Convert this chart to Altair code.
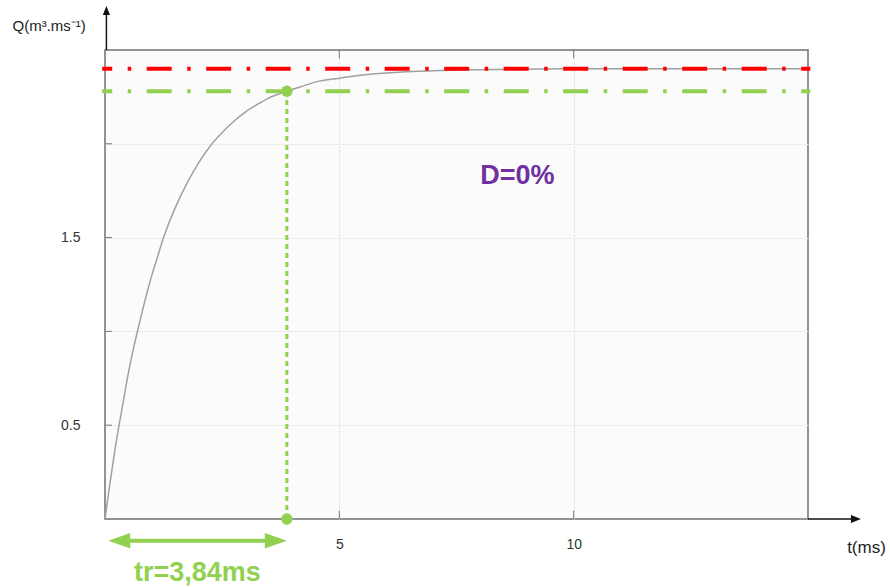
import altair as alt
import pandas as pd

# ---- data ----
t_ms = [0, 0.1, 0.2, 0.3, 0.4, 0.5, 0.6, 0.75, 0.9, 1.0, 1.1, 1.25, 1.4, 1.5, 1.75, 2.0,
        2.25, 2.5, 2.75, 3.0, 3.25, 3.5, 3.88, 4.25, 4.5, 5, 5.5, 6, 7, 8, 9, 10, 12, 15]
q_vals = [0, 0.18, 0.35, 0.50, 0.64, 0.78, 0.90, 1.06, 1.21, 1.30, 1.38, 1.50, 1.60, 1.66, 1.79, 1.90,
          1.99, 2.06, 2.12, 2.17, 2.21, 2.245, 2.28, 2.31, 2.33, 2.35, 2.367, 2.378, 2.39, 2.395, 2.398, 2.40, 2.40, 2.40]

q_final = 2.40          # red dash-dot level
q_95 = 2.28             # green dash-dot level (95 %)
t_r = 3.88              # response time position on the axis
tr_label = "tr=3,84ms"
d_label = "D=0%"

x_tick_values = [5, 10]
y_tick_values = [0.5, 1.0, 1.5, 2.0]
y_label_values = [0.5, 1.5]

X_DOM = [0, 15]
Y_DOM = [0, 2.5]
FONT = "Liberation Sans"
GREEN = "#92d050"
RED = "#ff0000"

xs = alt.Scale(domain=X_DOM, nice=False, zero=False)
ys = alt.Scale(domain=Y_DOM, nice=False, zero=False)

curve_df = pd.DataFrame({"t": t_ms, "q": q_vals})

base_x_axis = alt.Axis(
    values=x_tick_values, grid=True, gridColor="#d9d9d9", gridDash=[2, 2],
    domain=False, ticks=False, labelPadding=18, labelFontSize=14, labelColor="#333",
    labelFont=FONT, title="t(ms)", titleFont=FONT, titleFontSize=17,
    titleFontWeight="normal", titleColor="#222", titleAngle=0, titleX=761, titleY=33,
    titleAlign="center", titleBaseline="alphabetic",
)
label_expr = " || ".join(f"datum.value == {v}" for v in y_label_values)
base_y_axis = alt.Axis(
    values=y_tick_values, grid=True, gridColor="#ececec",
    domain=False, ticks=False, labelPadding=25, labelFontSize=14, labelColor="#333",
    labelFont=FONT, labelExpr=f"({label_expr}) ? datum.label : ''",
    title="Q(m³.ms⁻¹)", titleFont=FONT, titleFontSize=15, titleFontWeight="normal",
    titleColor="#222", titleAngle=0, titleX=-93, titleY=-20, titleAlign="left",
    titleBaseline="alphabetic",
)

curve = alt.Chart(curve_df).mark_line(
    color="#a0a0a0", strokeWidth=1.5, interpolate="monotone", clip=False
).encode(
    x=alt.X("t:Q", scale=xs, axis=base_x_axis),
    y=alt.Y("q:Q", scale=ys, axis=base_y_axis),
)

# horizontal dash-dot levels
levels_df = pd.DataFrame({"x1": [-0.06, -0.06], "x2": [15.05, 15.05],
                          "q": [q_final, q_95], "kind": ["final", "95"]})
levels = alt.Chart(levels_df).mark_rule(
    strokeWidth=4, strokeDash=[25, 15.5, 3.5, 15.5], strokeDashOffset=15, strokeCap="butt"
).encode(
    x=alt.X("x1:Q", scale=xs), x2="x2:Q", y=alt.Y("q:Q", scale=ys),
    color=alt.Color("kind:N", scale=alt.Scale(domain=["final", "95"], range=[RED, GREEN]), legend=None),
)

# vertical dotted line at tr
vline_df = pd.DataFrame({"t": [t_r], "q1": [0], "q2": [q_95]})
vline = alt.Chart(vline_df).mark_rule(color=GREEN, strokeWidth=3, strokeDash=[5, 4]).encode(
    x=alt.X("t:Q", scale=xs), y=alt.Y("q1:Q", scale=ys), y2="q2:Q"
)
pts_df = pd.DataFrame({"t": [t_r, t_r], "q": [q_95, 0]})
pts = alt.Chart(pts_df).mark_point(filled=True, color=GREEN, opacity=1, size=130, clip=False).encode(
    x=alt.X("t:Q", scale=xs), y=alt.Y("q:Q", scale=ys)
)

# inner tick marks
ytk_df = pd.DataFrame({"q": y_tick_values, "a": [0] * 4, "b": [0.15] * 4})
ytk = alt.Chart(ytk_df).mark_rule(color="#777", strokeWidth=1).encode(
    y=alt.Y("q:Q", scale=ys), x=alt.X("a:Q", scale=xs), x2="b:Q"
)
xtk_df = pd.DataFrame({"t": x_tick_values * 2, "a": [0, 0, 2.5, 2.5], "b": [0.045, 0.045, 2.455, 2.455]})
xtk = alt.Chart(xtk_df).mark_rule(color="#777", strokeWidth=1).encode(
    x=alt.X("t:Q", scale=xs), y=alt.Y("a:Q", scale=ys), y2="b:Q"
)

# axis arrows (shafts + heads)
shaft_df = pd.DataFrame({"x1": [15.0, 0.03], "x2": [16.02, 0.03], "y1": [0.0, 2.5], "y2": [0.0, 2.70]})
shafts = alt.Chart(shaft_df).mark_rule(color="#111", strokeWidth=1.5, clip=False).encode(
    x=alt.X("x1:Q", scale=xs), x2="x2:Q", y=alt.Y("y1:Q", scale=ys), y2="y2:Q"
)
xhead = alt.Chart(pd.DataFrame({"t": [16.13], "q": [0.0]})).mark_point(
    shape="M0,0L-2,-0.8L-2,0.8Z", size=100, filled=True, color="#111", opacity=1, clip=False
).encode(x=alt.X("t:Q", scale=xs), y=alt.Y("q:Q", scale=ys))
yhead = alt.Chart(pd.DataFrame({"t": [0.03], "q": [2.735]})).mark_point(
    shape="M0,0L-0.8,2L0.8,2Z", size=81, filled=True, color="#111", opacity=1, clip=False
).encode(x=alt.X("t:Q", scale=xs), y=alt.Y("q:Q", scale=ys))

# double arrow under the axis showing tr
arr_y = -0.116
arr_line = alt.Chart(pd.DataFrame({"a": [0.5], "b": [t_r - 0.45], "q": [arr_y]})).mark_rule(
    color=GREEN, strokeWidth=4, clip=False
).encode(x=alt.X("a:Q", scale=xs), x2="b:Q", y=alt.Y("q:Q", scale=ys))
arr_left = alt.Chart(pd.DataFrame({"t": [0.07], "q": [arr_y]})).mark_point(
    shape="M0,0L2,-0.7L2,0.7Z", size=484, filled=True, color=GREEN, opacity=1, clip=False
).encode(x=alt.X("t:Q", scale=xs), y=alt.Y("q:Q", scale=ys))
arr_right = alt.Chart(pd.DataFrame({"t": [t_r], "q": [arr_y]})).mark_point(
    shape="M0,0L-2,-0.7L-2,0.7Z", size=484, filled=True, color=GREEN, opacity=1, clip=False
).encode(x=alt.X("t:Q", scale=xs), y=alt.Y("q:Q", scale=ys))

# annotations
tr_text = alt.Chart(pd.DataFrame({"t": [1.97], "q": [-0.33], "s": [tr_label]})).mark_text(
    font=FONT, fontSize=27, fontWeight="bold", color=GREEN, align="center", baseline="alphabetic"
).encode(x=alt.X("t:Q", scale=xs), y=alt.Y("q:Q", scale=ys), text="s:N")
d_text = alt.Chart(pd.DataFrame({"t": [8.80], "q": [1.786], "s": [d_label]})).mark_text(
    font=FONT, fontSize=27, fontWeight="bold", color="#7030a0", align="center", baseline="alphabetic"
).encode(x=alt.X("t:Q", scale=xs), y=alt.Y("q:Q", scale=ys), text="s:N")

chart = alt.layer(
    curve, ytk, xtk, levels, vline, pts, shafts, xhead, yhead,
    arr_line, arr_left, arr_right, tr_text, d_text
).properties(
    width=703, height=469,
    autosize=alt.AutoSizeParams(type="none"),
    padding={"left": 105, "top": 50, "right": 82, "bottom": 68},
    background="white",
).configure_view(
    stroke="#707070", strokeWidth=1.5, fill="#fbfbfb"
)

chart.save("out.html", embed_options={"renderer": "svg", "actions": False})
